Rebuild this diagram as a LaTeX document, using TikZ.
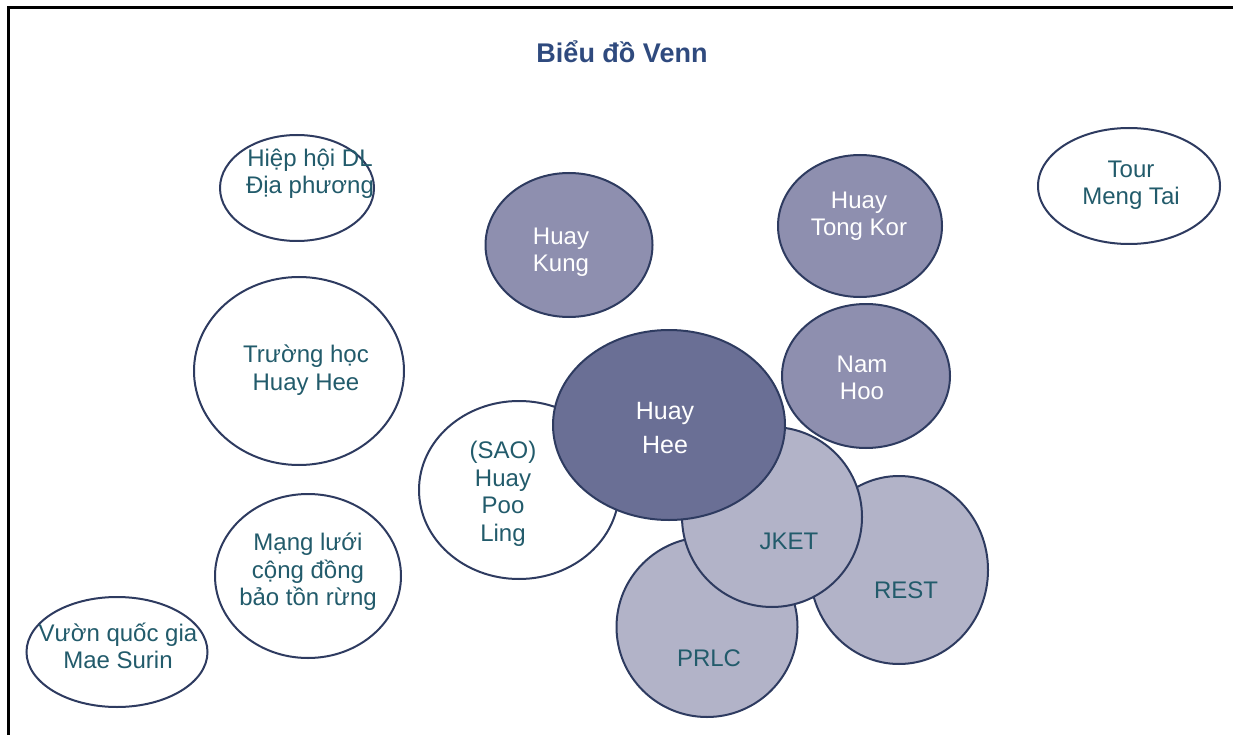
\documentclass[tikz,border=0pt]{standalone}
\usepackage{fontspec}
\setmainfont{Liberation Sans}
\usetikzlibrary{shapes.geometric}
\definecolor{edgec}{HTML}{2E3B60}
\definecolor{tealtxt}{HTML}{225B6B}
\definecolor{titlec}{HTML}{2F4A7E}
\definecolor{midfill}{HTML}{8E8FAF}
\definecolor{darkfill}{HTML}{6A6F95}
\definecolor{lightfill}{HTML}{B2B3C8}
\tikzset{
  bub/.style={ellipse, draw=edgec, line width=2pt, inner sep=0pt},
  wbub/.style={bub, fill=white},
  mbub/.style={bub, fill=midfill},
  dbub/.style={bub, fill=darkfill},
  lbub/.style={bub, fill=lightfill},
  ttxt/.style={text=tealtxt, align=center, font=\fontsize{24}{27.5}\selectfont, inner sep=0pt},
  wtxt/.style={text=white, align=center, font=\fontsize{24}{27.5}\selectfont, inner sep=0pt},
}
\begin{document}
\begin{tikzpicture}[x=1pt,y=-1pt]
\useasboundingbox (0,0) rectangle (1236,735);
\draw[line width=3pt] (8,735) -- (8,8) -- (1233,8);
\node[text=titlec, font=\bfseries\fontsize{27}{30}\selectfont] (title) at (622,52) {Biểu đồ Venn};
% bubbles
\node[wbub, minimum width=154, minimum height=106] (hh) at (297,188) {};
\node[ttxt] (hht) at (310,174) {Hiệp hội DL\\Địa phương};
\node[wbub, minimum width=182, minimum height=116] (tmt) at (1129,186) {};
\node[ttxt] (tmtt) at (1131,185) {Tour\\Meng Tai};
\node[mbub, minimum width=167, minimum height=144] (hk) at (569,245) {};
\node[wtxt] (hkt) at (561,252) {Huay\\Kung};
\node[mbub, minimum width=164, minimum height=142] (htk) at (860,226) {};
\node[wtxt] (htkt) at (859,216) {Huay\\Tong Kor};
\node[wbub, minimum width=210, minimum height=188] (th) at (299,371) {};
\node[ttxt] (tht) at (306,370) {Trường học\\Huay Hee};
\node[mbub, minimum width=168, minimum height=144] (nh) at (866,376) {};
\node[wtxt] (nht) at (862,378) {Nam\\Hoo};
\node[wbub, minimum width=186, minimum height=164] (ml) at (308,576) {};
\node[ttxt] (mlt) at (308,572) {Mạng lưới\\cộng đồng\\bảo tồn rừng};
\node[wbub, minimum width=181, minimum height=110] (vq) at (117,652) {};
\node[ttxt] (vqt) at (118,646) {Vườn quốc gia\\Mae Surin};
% cluster
\node[lbub, minimum width=178, minimum height=188] (rest) at (899,570) {};
\node[lbub, minimum width=181, minimum height=180] (prlc) at (707,627) {};
\node[lbub, minimum width=180, minimum height=180] (jket) at (772,517) {};
\node[wbub, minimum width=200, minimum height=178] (sao) at (519,490) {};
\node[dbub, minimum width=232, minimum height=190] (hhee) at (669,425) {};
\node[ttxt] (saot) at (503,494) {(SAO)\\Huay\\Poo\\Ling};
\node[wtxt, font=\fontsize{25}{34}\selectfont] (hheet) at (665,428) {Huay\\Hee};
\node[ttxt] (jkett) at (789,541) {JKET};
\node[ttxt] (restt) at (906,590) {REST};
\node[ttxt] (prlct) at (709,658) {PRLC};
\end{tikzpicture}
\end{document}
